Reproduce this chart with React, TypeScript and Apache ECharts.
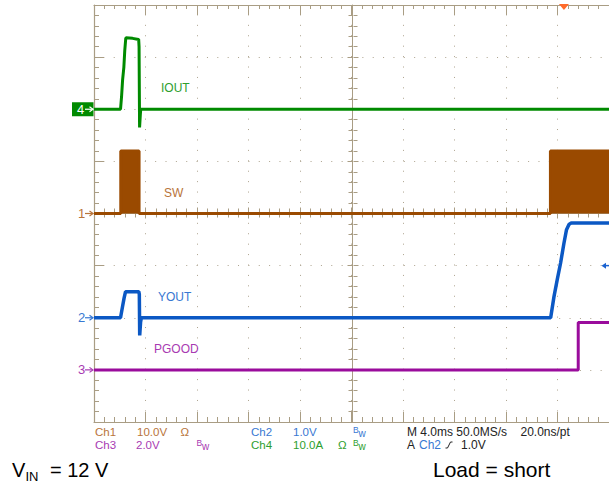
import React, { useEffect, useRef } from "react";
import * as echarts from "echarts";

// Scope geometry: 4 ms / div horizontally, 8 vertical divisions
const X_MIN = 0;
const X_MAX = 40;
const X_STEP = 4;
const Y_MIN = -4;
const Y_MAX = 4;

// Ch4 IOUT, amps, 10 A/div, ground marker at +2 div
const ioutTime = [0, 2.06, 2.14, 2.22, 2.32, 2.39, 2.47, 3.0, 3.47, 3.5, 3.54, 3.6, 3.63, 40];
const ioutAmps = [0, 0, 2.4, 5.6, 8.1, 11.3, 13.7, 13.6, 13.4, 12.0, -3.5, -1.0, 0, 0];
const ioutScale = 10;
const ioutOffset = 2;

// Ch1 SW, volts, 10 V/div, ground at 0 div
const swTime = [0, 2.08, 2.08, 3.5, 3.5, 35.45, 35.45, 40];
const swVolts = [0, 0, 12, 12, 0, 0, 12, 12];
const swScale = 10;
const swOffset = 0;

// Ch2 VOUT, volts, 1 V/div, ground at -2 div
const voutTime = [0, 2.06, 2.22, 2.34, 2.45, 3.0, 3.48, 3.52, 3.55, 3.62, 3.68, 35.47, 35.73, 35.98, 36.24, 36.5, 36.7, 36.89, 37.07, 40];
const voutVolts = [0, 0, 0.22, 0.38, 0.5, 0.5, 0.5, 0.45, -0.34, -0.08, 0, 0, 0.41, 0.73, 1.05, 1.43, 1.69, 1.79, 1.82, 1.82];
const voutScale = 1;
const voutOffset = -2;

// Ch3 PGOOD, volts, 2 V/div, ground at -3 div
const pgoodTime = [0, 37.61, 37.61, 40];
const pgoodVolts = [0, 0, 1.82, 1.82];
const pgoodScale = 2;
const pgoodOffset = -3;

const GRID_LEFT = 94;
const GRID_TOP = 5;
const GRID_W = 518;
const GRID_H = 417;

const FRAME = "#A99D84";
const DOTS = "#ADA38E";

const C_GREEN = "#008A00";
const C_BROWN = "#9A4A00";
const C_BLUE = "#0B58C4";
const C_PURPLE = "#9A0C9C";
const T_GREEN = "#2E9E2E";
const T_BROWN = "#B8743A";
const T_BLUE = "#3878D2";
const T_PURPLE = "#A83AB2";

const NARROW = '"Liberation Sans Narrow", "Liberation Sans", Arial, sans-serif';
const SANS = '"Liberation Sans", Arial, sans-serif';

function toDiv(t: number[], v: number[], scale: number, offset: number) {
  return t.map((x, i) => [x, v[i] / scale + offset]);
}

function txt(text: string, x: number, y: number, fill: string, size = 11.5, family = NARROW) {
  return {
    type: "text",
    x,
    y,
    z: 20,
    style: { text, fill, fontSize: size, fontFamily: family, align: "left", verticalAlign: "middle" },
  };
}

function bw(x: number, y: number, fill: string) {
  return [txt("B", x, y - 2, fill, 8.5), txt("w", x + 5.5, y + 1, fill, 10)];
}

function chMarker(label: string, y: number, color: string) {
  return [
    txt(label, 78, y, color, 13),
    { type: "line", z: 20, shape: { x1: 85, y1: y, x2: 93, y2: y }, style: { stroke: color, lineWidth: 1.2 } },
    { type: "polyline", z: 20, shape: { points: [[89.5, y - 2.5], [93, y], [89.5, y + 2.5]] }, style: { stroke: color, lineWidth: 1.2, fill: "none" } },
  ];
}

export default function App() {
  const ref = useRef<HTMLDivElement>(null);

  useEffect(() => {
    if (!ref.current) return;
    const chart = echarts.init(ref.current, null, { renderer: "svg" });

    const tickCommon = (inside: boolean, len: number, minorLen: number) => ({
      axisTick: { show: true, inside, length: len, lineStyle: { color: FRAME, width: 1 } },
      minorTick: { show: true, splitNumber: 5, length: minorLen, lineStyle: { color: FRAME, width: 1 } },
    });

    const mkLine = (name: string, data: number[][], color: string, width: number, extra: any = {}) => ({
      name,
      type: "line",
      xAxisIndex: 0,
      yAxisIndex: 0,
      data,
      symbol: "none",
      lineStyle: { color, width },
      itemStyle: { color },
      z: 5,
      ...extra,
    });

    chart.setOption({
      animation: false,
      backgroundColor: "#ffffff",
      grid: [
        { left: GRID_LEFT, top: GRID_TOP, width: GRID_W, height: GRID_H },
        { left: GRID_LEFT, top: 212.5, width: GRID_W, height: 1 },
        { left: 352.5, top: GRID_TOP, width: 1, height: GRID_H },
      ],
      xAxis: [
        {
          gridIndex: 0, type: "value", min: X_MIN, max: X_MAX, interval: X_STEP, position: "bottom",
          axisLine: { show: true, onZero: false, lineStyle: { color: FRAME, width: 1.2 } },
          ...tickCommon(true, 10, 5),
          axisLabel: { show: false },
          splitLine: { show: true, lineStyle: { color: DOTS, width: 1, type: [1, 9.42], dashOffset: 0.5 } },
        },
        {
          gridIndex: 0, type: "value", min: X_MIN, max: X_MAX, interval: X_STEP, position: "top",
          axisLine: { show: true, onZero: false, lineStyle: { color: FRAME, width: 1.2 } },
          ...tickCommon(true, 10, 4),
          axisLabel: { show: false },
          splitLine: { show: false },
        },
        {
          gridIndex: 1, type: "value", min: X_MIN, max: X_MAX, interval: X_STEP, position: "top",
          axisLine: { show: false, onZero: false },
          ...tickCommon(false, 5, 4),
          axisLabel: { show: false },
          splitLine: { show: false },
        },
        {
          gridIndex: 1, type: "value", min: X_MIN, max: X_MAX, interval: X_STEP, position: "bottom",
          axisLine: { show: true, onZero: false, lineStyle: { color: FRAME, width: 1 } },
          ...tickCommon(false, 5, 4),
          axisLabel: { show: false },
          splitLine: { show: false },
        },
        { gridIndex: 2, type: "value", min: 0, max: 1, show: false },
      ],
      yAxis: [
        {
          gridIndex: 0, type: "value", min: Y_MIN, max: Y_MAX, interval: 1, position: "left",
          axisLine: { show: true, onZero: false, lineStyle: { color: FRAME, width: 1.2 } },
          ...tickCommon(true, 10, 5),
          axisLabel: { show: false },
          splitLine: { show: true, lineStyle: { color: DOTS, width: 1, type: [1, 9.36], dashOffset: 0.5 } },
        },
        { gridIndex: 1, type: "value", min: 0, max: 1, show: false },
        {
          gridIndex: 2, type: "value", min: Y_MIN, max: Y_MAX, interval: 1, position: "left",
          axisLine: { show: true, onZero: false, lineStyle: { color: FRAME, width: 1 } },
          ...tickCommon(false, 5, 4),
          axisLabel: { show: false },
          splitLine: { show: false },
        },
        {
          gridIndex: 2, type: "value", min: Y_MIN, max: Y_MAX, interval: 1, position: "right",
          axisLine: { show: false, onZero: false },
          ...tickCommon(false, 5, 4),
          axisLabel: { show: false },
          splitLine: { show: false },
        },
      ],
      series: [
        mkLine("SW", toDiv(swTime, swVolts, swScale, swOffset), C_BROWN, 3, {
          areaStyle: { color: C_BROWN, opacity: 1 },
        }),
        mkLine("IOUT", toDiv(ioutTime, ioutAmps, ioutScale, ioutOffset), C_GREEN, 3),
        mkLine("VOUT", toDiv(voutTime, voutVolts, voutScale, voutOffset), C_BLUE, 3.5),
        mkLine("PGOOD", toDiv(pgoodTime, pgoodVolts, pgoodScale, pgoodOffset), C_PURPLE, 3),
      ],
    });

    const py = (d: number) => (chart.convertToPixel({ yAxisIndex: 0 }, d) as number);
    const px = (t: number) => (chart.convertToPixel({ xAxisIndex: 0 }, t) as number);

    const y4 = py(ioutOffset);
    const y1 = py(swOffset);
    const y2 = py(voutOffset);
    const y3 = py(pgoodOffset);
    const yTrig = py(voutOffset + 1.0 / voutScale);
    const xTrig = px(36.5);

    const r1 = 432;
    const r2 = 445;

    const graphic: any[] = [
      // channel 4 marker box
      { type: "rect", z: 20, shape: { x: 72, y: y4 - 7, width: 21.5, height: 14 }, style: { fill: C_GREEN } },
      txt("4", 77, y4, "#ffffff", 13),
      { type: "line", z: 21, shape: { x1: 85, y1: y4, x2: 93, y2: y4 }, style: { stroke: "#ffffff", lineWidth: 1.2 } },
      { type: "polyline", z: 21, shape: { points: [[89.5, y4 - 2.5], [93, y4], [89.5, y4 + 2.5]] }, style: { stroke: "#ffffff", lineWidth: 1.2, fill: "none" } },
      ...chMarker("1", y1, T_BROWN),
      ...chMarker("2", y2, T_BLUE),
      ...chMarker("3", y3, T_PURPLE),
      // trace labels
      txt("IOUT", 161, 88, T_GREEN, 12),
      txt("SW", 164, 192.5, T_BROWN, 12),
      txt("YOUT", 158, 297, T_BLUE, 12),
      txt("PGOOD", 154, 349, T_PURPLE, 12),
      // trigger position marker
      { type: "polygon", z: 22, shape: { points: [[xTrig - 5, 4], [xTrig + 5, 4], [xTrig, 10]] }, style: { fill: "#FF6A2A" } },
      // trigger level marker
      { type: "polygon", z: 22, shape: { points: [[601.5, yTrig], [606, yTrig - 3], [606, yTrig + 3]] }, style: { fill: "#1A62D0" } },
      { type: "line", z: 22, shape: { x1: 604, y1: yTrig, x2: 609, y2: yTrig }, style: { stroke: "#1A62D0", lineWidth: 1.5 } },
      // readout row 1
      txt("Ch1", 95, r1, T_BROWN),
      txt("10.0V", 137, r1, T_BROWN),
      txt("Ω", 180.5, r1, T_BROWN),
      txt("Ch2", 251, r1, T_BLUE),
      txt("1.0V", 293, r1, T_BLUE),
      ...bw(353, r1, T_BLUE),
      txt("M 4.0ms 50.0MS/s", 407, r1, "#222222", 12),
      txt("20.0ns/pt", 520.5, r1, "#222222", 12),
      // readout row 2
      txt("Ch3", 95, r2, T_PURPLE),
      txt("2.0V", 136, r2, T_PURPLE),
      ...bw(196.5, r2, T_PURPLE),
      txt("Ch4", 251, r2, T_GREEN),
      txt("10.0A", 293, r2, T_GREEN),
      txt("Ω", 338, r2, T_GREEN),
      ...bw(353, r2, T_GREEN),
      txt("A", 407, r2, "#222222", 12),
      txt("Ch2", 419, r2, T_BLUE, 12),
      { type: "polyline", z: 20, shape: { points: [[445.5, r2 + 3], [447.5, r2 + 3], [450.5, r2 - 3], [452.5, r2 - 3]] }, style: { stroke: "#222222", lineWidth: 1, fill: "none" } },
      txt("1.0V", 461, r2, "#222222", 12),
      // captions
      txt("V", 12, 469.5, "#000000", 20, SANS),
      txt("IN", 25.5, 476, "#000000", 13, SANS),
      txt("= 12 V", 50, 469.5, "#000000", 20, SANS),
      txt("Load = short", 433, 469.5, "#000000", 21, SANS),
    ];

    chart.setOption({ graphic });

    return () => {
      chart.dispose();
    };
  }, []);

  return (
    <div
      ref={ref}
      style={{ position: "absolute", left: 0, top: 0, width: 609, height: 484, background: "#ffffff" }}
    />
  );
}
